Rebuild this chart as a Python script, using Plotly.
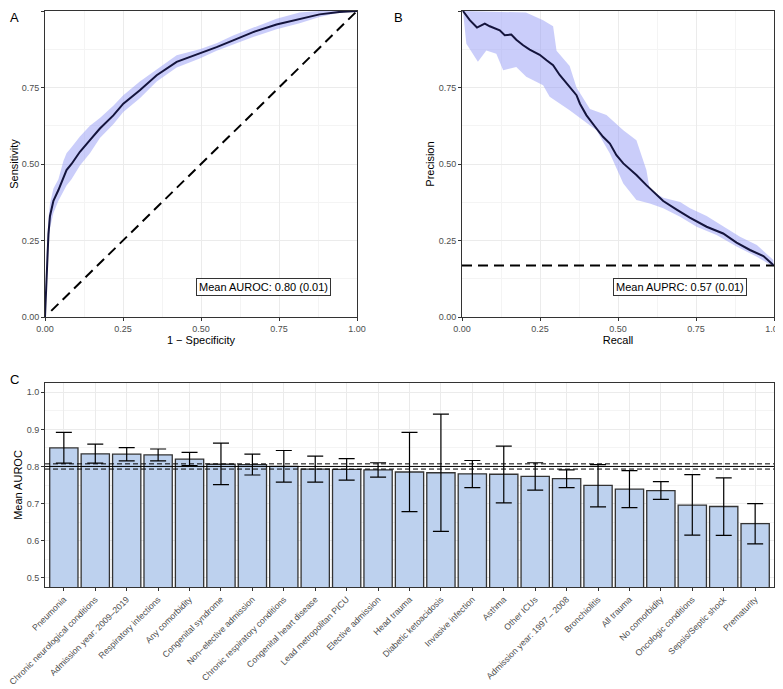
import plotly.graph_objects as go

# Panel A: ROC curve (mean + band)
roc_fpr = [0, 0.005, 0.011, 0.016, 0.027, 0.043, 0.059, 0.069, 0.085, 0.112, 0.144, 0.176, 0.219,
           0.251, 0.304, 0.358, 0.422, 0.496, 0.55, 0.603, 0.667, 0.742, 0.816, 0.88, 0.944, 1.0]
roc_tpr = [0, 0.15, 0.27, 0.33, 0.38, 0.415, 0.458, 0.48, 0.50, 0.54, 0.578, 0.616, 0.659,
           0.697, 0.741, 0.79, 0.834, 0.861, 0.882, 0.904, 0.931, 0.956, 0.975, 0.989, 0.997, 1.0]
roc_upper = [0, 0.2, 0.32, 0.37, 0.42, 0.45, 0.51, 0.535, 0.555, 0.59, 0.625, 0.65, 0.69,
             0.725, 0.77, 0.81, 0.855, 0.875, 0.895, 0.92, 0.945, 0.975, 0.995, 1.0, 1.0, 1.0]
roc_lower = [0, 0.1, 0.22, 0.29, 0.34, 0.38, 0.41, 0.43, 0.45, 0.495, 0.535, 0.585, 0.63,
             0.67, 0.715, 0.77, 0.815, 0.845, 0.87, 0.89, 0.915, 0.94, 0.96, 0.98, 0.995, 1.0]

# Panel B: PR curve
pr_recall = [0.003, 0.025, 0.048, 0.073, 0.089, 0.121, 0.137, 0.158, 0.174, 0.196, 0.217, 0.249,
             0.271, 0.292, 0.313, 0.345, 0.367, 0.378, 0.399, 0.431, 0.452, 0.474, 0.495, 0.517,
             0.559, 0.591, 0.624, 0.645, 0.688, 0.73, 0.784, 0.837, 0.88, 0.923, 0.966, 0.998]
pr_precision = [1.0, 0.97, 0.946, 0.959, 0.95, 0.937, 0.921, 0.923, 0.906, 0.888, 0.874, 0.857,
                0.839, 0.823, 0.791, 0.752, 0.725, 0.697, 0.659, 0.616, 0.589, 0.567, 0.529, 0.502,
                0.464, 0.431, 0.398, 0.379, 0.351, 0.325, 0.295, 0.273, 0.243, 0.219, 0.199, 0.17]
pr_up_x = [0.003, 0.205, 0.26, 0.292, 0.303, 0.345, 0.367, 0.41, 0.463, 0.517, 0.559, 0.591, 0.602,
           0.645, 0.699, 0.731, 0.784, 0.838, 0.891, 0.945, 0.998]
pr_up_y = [1.0, 0.995, 0.97, 0.95, 0.87, 0.82, 0.75, 0.68, 0.66, 0.61, 0.578, 0.48, 0.415,
           0.39, 0.376, 0.355, 0.33, 0.295, 0.262, 0.235, 0.186]
pr_lo_x = [0.014, 0.051, 0.078, 0.11, 0.132, 0.174, 0.206, 0.26, 0.281, 0.345, 0.388, 0.431,
           0.474, 0.517, 0.559, 0.602, 0.645, 0.699, 0.752, 0.816, 0.88, 0.945, 0.998]
pr_lo_y = [0.893, 0.834, 0.871, 0.86, 0.806, 0.817, 0.785, 0.757, 0.72, 0.676, 0.643, 0.61,
           0.534, 0.436, 0.382, 0.371, 0.355, 0.328, 0.295, 0.268, 0.23, 0.197, 0.164]
pr_baseline = 0.168

# Panel C: subgroup AUROC
groups = ['Pneumonia', 'Chronic neurological conditions', 'Admission year: 2009–2019',
          'Respiratory infections', 'Any comorbidity', 'Congenital syndrome',
          'Non−elective admission', 'Chronic respiratory conditions', 'Congenital heart disease',
          'Lead metropolitan PICU', 'Elective admission', 'Head trauma', 'Diabetic ketoacidosis',
          'Invasive infection', 'Asthma', 'Other ICUs', 'Admission year: 1997 – 2008',
          'Bronchiolitis', 'All trauma', 'No comorbidity', 'Oncologic conditions',
          'Sepsis/Septic shock', 'Prematurity']
auroc = [0.850, 0.834, 0.833, 0.831, 0.820, 0.806, 0.805, 0.800, 0.793, 0.792, 0.791, 0.785,
         0.783, 0.780, 0.779, 0.773, 0.767, 0.749, 0.739, 0.735, 0.696, 0.692, 0.646]
auroc_hi = [0.892, 0.860, 0.851, 0.847, 0.838, 0.863, 0.833, 0.843, 0.828, 0.821, 0.810, 0.892,
            0.941, 0.816, 0.855, 0.810, 0.791, 0.805, 0.789, 0.759, 0.778, 0.769, 0.700]
auroc_lo = [0.809, 0.809, 0.815, 0.815, 0.802, 0.751, 0.777, 0.758, 0.758, 0.763, 0.771, 0.678,
            0.625, 0.743, 0.702, 0.736, 0.743, 0.691, 0.689, 0.711, 0.615, 0.614, 0.591]
overall_mean = 0.800
overall_band = [0.793, 0.807]

# page has an 8px body margin, so positions are shifted by 8px
W, H, OFF = 783, 681, 8
def px_x(x):
    return (x - OFF) / W
def px_y(y):
    return 1 - (y - OFF) / H

band_col = 'rgba(150,155,245,0.5)'
line_col = '#14143C'
grid = '#EBEBEB'
FONT = 'Liberation Sans, Arial'
tickfont = dict(size=9, color='#4D4D4D', family=FONT)
titlefont = dict(size=11, color='black', family=FONT)

fig = go.Figure()

# A
fig.add_trace(go.Scatter(x=roc_fpr + roc_fpr[::-1], y=roc_upper + roc_lower[::-1], fill='toself',
                         fillcolor=band_col, line=dict(width=0), mode='lines', hoverinfo='skip',
                         xaxis='x', yaxis='y'))
fig.add_trace(go.Scatter(x=[0.02, 1], y=[0.02, 1], mode='lines', line=dict(color='black', width=2, dash='10px,6px'),
                         xaxis='x', yaxis='y'))
fig.add_trace(go.Scatter(x=roc_fpr, y=roc_tpr, mode='lines', line=dict(color=line_col, width=2),
                         xaxis='x', yaxis='y'))

# B
fig.add_trace(go.Scatter(x=pr_up_x + pr_lo_x[::-1], y=pr_up_y + pr_lo_y[::-1], fill='toself',
                         fillcolor=band_col, line=dict(width=0), mode='lines', hoverinfo='skip',
                         xaxis='x2', yaxis='y2'))
fig.add_trace(go.Scatter(x=[0, 1], y=[pr_baseline, pr_baseline], mode='lines',
                         line=dict(color='black', width=2, dash='10px,6px'), xaxis='x2', yaxis='y2'))
fig.add_trace(go.Scatter(x=pr_recall, y=pr_precision, mode='lines', line=dict(color=line_col, width=2),
                         xaxis='x2', yaxis='y2'))

# C
fig.add_trace(go.Bar(x=groups, y=auroc, width=0.9,
                     marker=dict(color='#BDD1EE', line=dict(color='#333333', width=1.3)),
                     xaxis='x3', yaxis='y3'))
fig.add_trace(go.Scatter(x=groups, y=auroc, mode='markers', marker=dict(size=1, color='rgba(0,0,0,0)'),
                         error_y=dict(type='data', symmetric=False,
                                      array=[h - m for h, m in zip(auroc_hi, auroc)],
                                      arrayminus=[m - l for m, l in zip(auroc, auroc_lo)],
                                      color='black', thickness=1.2, width=8),
                         xaxis='x3', yaxis='y3'))

for yv, dash in [(overall_mean, 'solid'), (overall_band[0], '5px,3px'), (overall_band[1], '5px,3px')]:
    fig.add_shape(type='line', xref='x3 domain', yref='y3', x0=0, x1=1, y0=yv, y1=yv,
                  line=dict(color='black', width=1, dash=dash), layer='above')

def cont_axis(domain, anchor, title, rng, dtick, **kw):
    return dict(domain=domain, anchor=anchor, range=rng, dtick=dtick, tickformat='.2f',
                title=dict(text=title, font=titlefont, standoff=1), tickfont=tickfont,
                showgrid=True, gridcolor=grid, gridwidth=1, zeroline=False,
                minor=dict(dtick=dtick / 2, showgrid=True, gridcolor='#F4F4F4', gridwidth=0.8),
                showline=True, linecolor='#333333', linewidth=1, mirror=True,
                ticks='outside', ticklen=3, tickcolor='#333333', automargin=False, **kw)

dom_ax = [px_x(45), px_x(357)]
dom_bx = [px_x(462), px_x(774)]
dom_aby = [px_y(317), px_y(11)]
dom_cx = [px_x(45), px_x(774)]
dom_cy = [px_y(587), px_y(383)]

fig.update_layout(
    width=W, height=H, showlegend=False, plot_bgcolor='white', paper_bgcolor='white',
    margin=dict(l=0, r=0, t=0, b=0),
    font=dict(family=FONT),
    xaxis=cont_axis(dom_ax, 'y', '1 − Specificity', [0, 1], 0.25),
    yaxis=cont_axis(dom_aby, 'x', 'Sensitivity', [0, 1], 0.25),
    xaxis2=cont_axis(dom_bx, 'y2', 'Recall', [0, 1], 0.25),
    yaxis2=cont_axis(dom_aby, 'x2', 'Precision', [0, 1], 0.25),
    xaxis3=dict(domain=dom_cx, anchor='y3', tickangle=-45, tickfont=dict(size=8.7, color='#4D4D4D', family=FONT),
                range=[-0.6, len(groups) - 0.4], showgrid=True, gridcolor=grid,
                showline=True, linecolor='#333333', mirror=True, ticks='outside', ticklen=3,
                tickcolor='#333333', automargin=False),
    yaxis3=dict(domain=dom_cy, anchor='x3', range=[0.475, 1.025], dtick=0.1, tickformat='.1f',
                title=dict(text='Mean AUROC', font=titlefont, standoff=1), tickfont=tickfont,
                showgrid=True, gridcolor=grid, zeroline=False,
                minor=dict(dtick=0.05, showgrid=True, gridcolor='#F4F4F4', gridwidth=0.8),
                showline=True, linecolor='#333333', mirror=True, ticks='outside', ticklen=3,
                tickcolor='#333333', automargin=False),
    bargap=0.1,
)

box = dict(size=11, color='black', family=FONT)
fig.add_annotation(x=0.70, y=0.097, xref='x', yref='y', text='Mean AUROC: 0.80 (0.01)', showarrow=False,
                   font=box, bordercolor='#333333', borderwidth=1, borderpad=2, bgcolor='white')
fig.add_annotation(x=0.70, y=0.097, xref='x2', yref='y2', text='Mean AUPRC: 0.57 (0.01)', showarrow=False,
                   font=box, bordercolor='#333333', borderwidth=1, borderpad=2, bgcolor='white')

for letter, px, py in [('A', 8, 8), ('B', 392, 8), ('C', 8, 370)]:
    fig.add_annotation(x=px_x(px), y=px_y(py), xref='paper', yref='paper', text=letter,
                       showarrow=False, xanchor='left', yanchor='top',
                       font=dict(size=13, color='black', family=FONT))

fig.write_html('out.html')
